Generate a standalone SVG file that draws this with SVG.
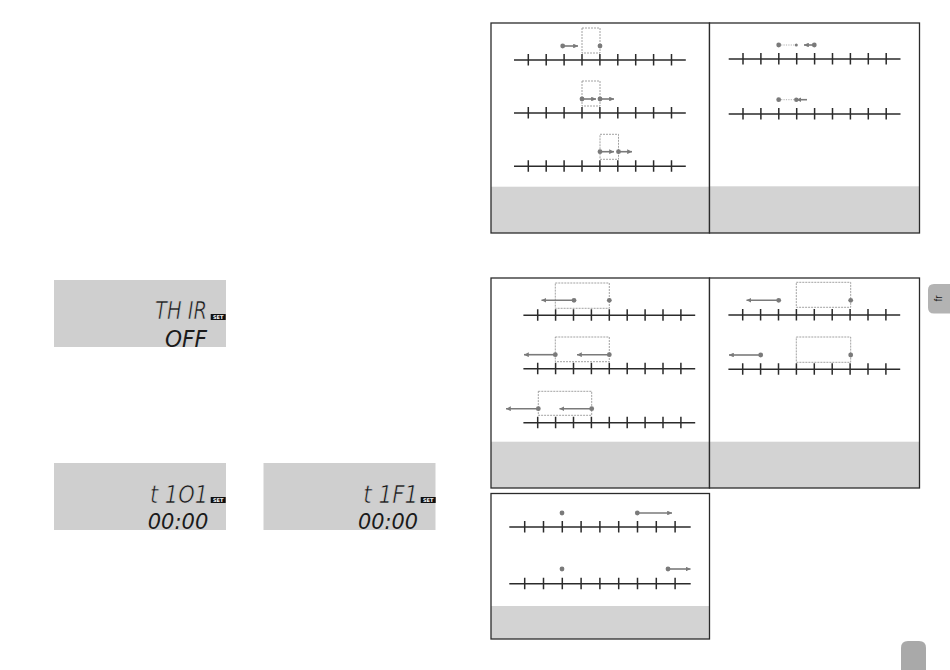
<svg xmlns="http://www.w3.org/2000/svg" xmlns:xlink="http://www.w3.org/1999/xlink" width="950" height="670" viewBox="0 0 950 670">
<style>
.panel{fill:none;stroke:#2b2b2b;stroke-width:1.3}
.bg{fill:#ffffff}
.foot{fill:#d3d3d3}
.axis{stroke:#2b2b2b;stroke-width:1.5;fill:none}
.box{fill:none;stroke:#8a8a8a;stroke-width:0.8;stroke-dasharray:2 1}
.arr{stroke:#7a7a7a;stroke-width:1.6;fill:none;marker-end:url(#ah)}
.dot{fill:#7a7a7a}
.dash{stroke:#9a9a9a;stroke-width:0.8;stroke-dasharray:1.2 1.2}
.lcd{fill:#cfcfcf}
.seg{font-family:"DejaVu Sans",sans-serif;fill:#1a1a1a;font-style:italic}
.thin{stroke:#cfcfcf;stroke-width:0.55}
.setb{fill:#111}
.sett{font-family:"DejaVu Sans",sans-serif;font-size:5px;font-weight:bold;fill:#ffffff}
.tab{fill:#b3b3b3}
</style>
<defs>
<marker id="ah" viewBox="0 0 6 6" refX="6" refY="3" markerWidth="3" markerHeight="3" orient="auto" markerUnits="strokeWidth">
<path d="M0,0 L6,3 L0,6 z" fill="#7a7a7a"/>
</marker>
<g id="axA">
<path class="axis" d="M-14.3,0 H157.5 M0,-6 V5.5 M17.9,-6 V5.5 M35.8,-6 V5.5 M53.7,-6 V5.5 M71.6,-6 V5.5 M89.5,-6 V5.5 M107.4,-6 V5.5 M125.3,-6 V5.5 M143.2,-6 V5.5"/>
</g>
<g id="axB">
<path class="axis" d="M-15.4,0 H166 M0,-6 V5.5 M18.8,-6 V5.5 M37.6,-6 V5.5 M56.4,-6 V5.5 M75.2,-6 V5.5 M94,-6 V5.5 M112.8,-6 V5.5 M131.6,-6 V5.5 M150.4,-6 V5.5"/>
</g>
</defs>

<!-- LCD displays -->
<g id="lcd-thir">
<rect class="lcd" x="54" y="280" width="172" height="67"/>
<text class="seg thin" transform="translate(155,319) scale(1,1.2)" font-size="20" textLength="52" lengthAdjust="spacingAndGlyphs">TH IR</text>
<rect class="setb" x="210.7" y="314" width="15" height="6"/>
<text class="sett" x="218.2" y="319" text-anchor="middle">SET</text>
<text class="seg" transform="translate(165,346.5) scale(1,1.15)" font-size="20" textLength="42" lengthAdjust="spacingAndGlyphs">OFF</text>
</g>
<g id="lcd-t1o1">
<rect class="lcd" x="54" y="463" width="172" height="67"/>
<text class="seg thin" transform="translate(150,502.5) scale(1,1.2)" font-size="20.5" textLength="58" lengthAdjust="spacingAndGlyphs">t 1O1</text>
<rect class="setb" x="210.7" y="497" width="15" height="6"/>
<text class="sett" x="218.2" y="502" text-anchor="middle">SET</text>
<text class="seg" transform="translate(147.7,528.5) scale(1,1.05)" font-size="21" textLength="60.6" lengthAdjust="spacingAndGlyphs">00:00</text>
</g>
<g id="lcd-t1f1">
<rect class="lcd" x="263.5" y="463" width="172" height="67"/>
<text class="seg thin" transform="translate(363.3,502.5) scale(1,1.15)" font-size="21" textLength="55" lengthAdjust="spacingAndGlyphs">t 1F1</text>
<rect class="setb" x="420.7" y="497" width="15" height="6"/>
<text class="sett" x="428.2" y="502" text-anchor="middle">SET</text>
<text class="seg" transform="translate(358,528.5) scale(1,1.05)" font-size="21" textLength="60" lengthAdjust="spacingAndGlyphs">00:00</text>
</g>

<!-- Panel top-left -->
<g id="panel-tl">
<rect class="bg" x="491" y="23" width="218.5" height="210"/>
<rect class="foot" x="491" y="186.7" width="218.5" height="46.3"/>
<use xlink:href="#axA" href="#axA" x="528.3" y="60"/>
<use xlink:href="#axA" href="#axA" x="528.3" y="113"/>
<use xlink:href="#axA" href="#axA" x="528.3" y="166.3"/>
<rect class="box" x="582" y="28" width="18" height="25"/>
<line class="arr" x1="562.7" y1="46" x2="578" y2="46"/>
<circle class="dot" cx="562.7" cy="46" r="2.4"/>
<circle class="dot" cx="600" cy="46" r="2.4"/>
<rect class="box" x="582" y="81" width="18" height="25"/>
<line class="arr" x1="582" y1="99" x2="596" y2="99"/>
<line class="arr" x1="600" y1="99" x2="614" y2="99"/>
<circle class="dot" cx="582" cy="99" r="2.4"/>
<circle class="dot" cx="600" cy="99" r="2.4"/>
<rect class="box" x="600" y="134.3" width="18.5" height="25"/>
<line class="arr" x1="600" y1="151.7" x2="614" y2="151.7"/>
<line class="arr" x1="618.5" y1="151.7" x2="632" y2="151.7"/>
<circle class="dot" cx="600" cy="151.7" r="2.4"/>
<circle class="dot" cx="618.5" cy="151.7" r="2.4"/>
<rect class="panel" x="491" y="23" width="218.5" height="210"/>
</g>

<!-- Panel top-right -->
<g id="panel-tr">
<rect class="bg" x="709.5" y="23" width="210" height="210"/>
<rect class="foot" x="709.5" y="186.3" width="210" height="46.7"/>
<use xlink:href="#axA" href="#axA" x="743" y="59"/>
<use xlink:href="#axA" href="#axA" x="743" y="114"/>
<line class="dash" x1="778.7" y1="45" x2="796.3" y2="45"/>
<circle class="dot" cx="778.7" cy="45" r="2.4"/>
<circle class="dot" cx="796.3" cy="45" r="1.5"/>
<line class="arr" x1="814.3" y1="45" x2="804" y2="45"/>
<circle class="dot" cx="814.3" cy="45" r="2.4"/>
<line class="dash" x1="778.7" y1="99.7" x2="796.3" y2="99.7"/>
<circle class="dot" cx="778.7" cy="99.7" r="2.4"/>
<line class="arr" x1="807" y1="99.7" x2="796.5" y2="99.7"/>
<circle class="dot" cx="796.3" cy="99.7" r="2.2"/>
<rect class="panel" x="709.5" y="23" width="210" height="210"/>
</g>

<!-- Panel middle-left -->
<g id="panel-ml">
<rect class="bg" x="491" y="278" width="218.5" height="210"/>
<rect class="foot" x="491" y="441.7" width="218.5" height="46.3"/>
<use xlink:href="#axA" href="#axA" x="537.7" y="315.3"/>
<use xlink:href="#axA" href="#axA" x="537.7" y="368.7"/>
<use xlink:href="#axA" href="#axA" x="537.7" y="422.7"/>
<rect class="box" x="555.3" y="283" width="54" height="25.3"/>
<line class="arr" x1="574" y1="300.3" x2="541.5" y2="300.3"/>
<circle class="dot" cx="574" cy="300.3" r="2.4"/>
<circle class="dot" cx="609.3" cy="300.3" r="2.4"/>
<rect class="box" x="555.3" y="337" width="54" height="24.7"/>
<line class="arr" x1="555.3" y1="354.7" x2="524" y2="354.7"/>
<line class="arr" x1="609.3" y1="354.7" x2="577" y2="354.7"/>
<circle class="dot" cx="555.3" cy="354.7" r="2.4"/>
<circle class="dot" cx="609.3" cy="354.7" r="2.4"/>
<rect class="box" x="538.3" y="391.3" width="53.4" height="24"/>
<line class="arr" x1="538.3" y1="408.7" x2="506" y2="408.7"/>
<line class="arr" x1="591.7" y1="408.7" x2="559.5" y2="408.7"/>
<circle class="dot" cx="538.3" cy="408.7" r="2.4"/>
<circle class="dot" cx="591.7" cy="408.7" r="2.4"/>
<rect class="panel" x="491" y="278" width="218.5" height="210"/>
</g>

<!-- Panel middle-right -->
<g id="panel-mr">
<rect class="bg" x="709.5" y="278" width="210" height="210"/>
<rect class="foot" x="709.5" y="441.7" width="210" height="46.3"/>
<use xlink:href="#axA" href="#axA" x="742.7" y="315"/>
<use xlink:href="#axA" href="#axA" x="742.7" y="369.3"/>
<rect class="box" x="796.3" y="282.3" width="54.4" height="25"/>
<line class="arr" x1="778.7" y1="300.3" x2="746.5" y2="300.3"/>
<circle class="dot" cx="778.7" cy="300.3" r="2.4"/>
<circle class="dot" cx="850.7" cy="300.3" r="2.4"/>
<rect class="box" x="796.3" y="337" width="54.4" height="25.3"/>
<line class="arr" x1="760.7" y1="355" x2="729" y2="355"/>
<circle class="dot" cx="760.7" cy="355" r="2.4"/>
<circle class="dot" cx="850.7" cy="355" r="2.4"/>
<rect class="panel" x="709.5" y="278" width="210" height="210"/>
</g>

<!-- Panel bottom -->
<g id="panel-b">
<rect class="bg" x="491" y="493.5" width="218.5" height="145.5"/>
<rect class="foot" x="491" y="606" width="218.5" height="33"/>
<use xlink:href="#axB" href="#axB" x="524.7" y="527"/>
<use xlink:href="#axB" href="#axB" x="524.7" y="583.7"/>
<circle class="dot" cx="562" cy="513" r="2.4"/>
<line class="arr" x1="637.3" y1="513" x2="672" y2="513"/>
<circle class="dot" cx="637.3" cy="513" r="2.4"/>
<circle class="dot" cx="562" cy="569" r="2.4"/>
<line class="arr" x1="668" y1="569" x2="690.5" y2="569"/>
<circle class="dot" cx="668" cy="569" r="2.4"/>
<rect class="panel" x="491" y="493.5" width="218.5" height="145.5"/>
</g>

<!-- Side tabs -->
<g id="tab-fr">
<path class="tab" d="M950,284 H934 Q928,284 928,290 V307.5 Q928,313.5 934,313.5 H950 Z"/>
<text transform="translate(941.5,298.5) rotate(-90)" font-family="Liberation Sans, sans-serif" font-size="10" fill="#1a1a1a" text-anchor="middle">fr</text>
</g>
<g id="tab-page">
<path d="M901,670 V648 Q901,641 908,641 H919 Q926,641 926,648 V670 Z" fill="#a9a9a9"/>
</g>
</svg>
